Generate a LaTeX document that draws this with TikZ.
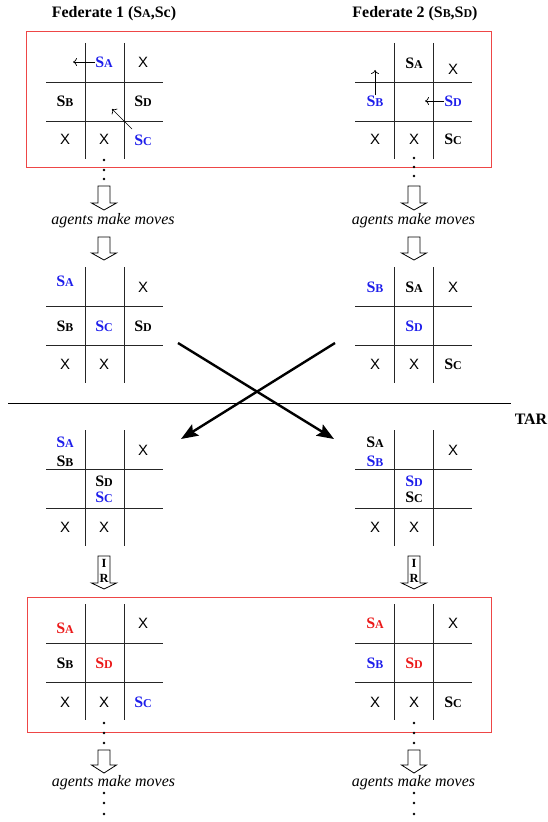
\documentclass[tikz,border=0pt]{standalone}
\usepackage{fontspec}
\setmainfont{Liberation Serif}
\newfontfamily\xfont{Liberation Sans}
\usetikzlibrary{arrows.meta}
\definecolor{sblue}{RGB}{30,30,235}
\definecolor{sred}{RGB}{235,25,25}
\definecolor{boxred}{RGB}{238,70,70}
\newcommand\lbS[1]{S{\fontsize{12}{12}\selectfont #1}}
\newcommand\hollowdown[4]{\draw[hollow] ({#1-6},#2) -- ({#1+6},#2) -- ({#1+6},#3) -- ({#1+12.5},#3) -- (#1,#4) -- ({#1-12.5},#3) -- ({#1-6},#3) -- cycle;}
\newcommand\threedots[4]{\fill (#1,#2) circle (1.3bp); \fill (#1,#3) circle (1.3bp); \fill (#1,#4) circle (1.3bp);}
\tikzset{ttt/.pic={\draw[gridline] (39,0) -- (39,116) (78,0) -- (78,116) (0,39) -- (117,39) (0,78) -- (117,78);}}
\begin{document}
\begin{tikzpicture}[x=1bp,y=-1bp,
 lbl/.style={font=\fontsize{16}{16}\selectfont\bfseries, inner sep=0pt},
 xm/.style={font=\xfont\fontsize{15}{15}\selectfont, inner sep=0pt},
 gridline/.style={line width=1bp, black!85},
 frame/.style={draw=boxred, line width=1bp},
 cellarrow/.style={line width=0.7bp, -{To[length=4bp,width=8bp]}},
 cross/.style={line width=2.4bp, -{Stealth[length=17bp,width=13bp,inset=3bp]}},
 hollow/.style={draw=black, line width=0.8bp, fill=white},
 note/.style={font=\itshape\fontsize{16}{16}\selectfont, inner sep=0pt},
 title/.style={font=\bfseries\fontsize{16}{16}\selectfont, inner sep=0pt},
 irl/.style={font=\bfseries\fontsize{12.5}{12.5}\selectfont, inner sep=0pt}]
\useasboundingbox (0,0) rectangle (548,822);
% titles
\node[title] (t1) at (114,14) {Federate 1 (\lbS{A},Sc)};
\node[title] (t2) at (415,14) {Federate 2 (\lbS{B},\lbS{D})};
% frames
\draw[frame] (26,32) rectangle (491,167);
\draw[frame] (27,597) rectangle (491,732);
% ---------- row 1
\pic at (46,43) {ttt};
\node[lbl, sblue] (a1) at (104,62) {\lbS{A}};
\node[xm] (a1x1) at (143,62) {X};
\node[lbl] (a1b) at (65,101) {\lbS{B}};
\node[lbl] (a1d) at (143,101) {\lbS{D}};
\node[xm] (a1x2) at (65,139) {X};
\node[xm] (a1x3) at (104,139) {X};
\node[lbl, sblue] (a1c) at (143,140) {\lbS{C}};
\coordinate (a1ae) at (73,62);
\coordinate (a1cs) at (132,129);
\coordinate (a1ce) at (112,109);
\draw[cellarrow] (a1.west) -- (a1ae);
\draw[cellarrow] (a1cs) -- (a1ce);
\pic at (355,43) {ttt};
\node[lbl] (b1a) at (414,63) {\lbS{A}};
\node[xm] (b1x1) at (453,69) {X};
\node[lbl, sblue] (b1b) at (375,101) {\lbS{B}};
\node[lbl, sblue] (b1d) at (453,101) {\lbS{D}};
\node[xm] (b1x2) at (375,139) {X};
\node[xm] (b1x3) at (414,139) {X};
\node[lbl] (b1c) at (453,139) {\lbS{C}};
\coordinate (b1be) at (375,70);
\coordinate (b1de) at (425,101);
\draw[cellarrow] (b1b.north) -- (b1be);
\draw[cellarrow] (b1d.west) -- (b1de);
% dots + arrows + notes
\threedots{104}{160}{170}{179}
\threedots{414}{158}{167}{176}
\hollowdown{104}{186}{203}{210}
\hollowdown{414}{186}{203}{210}
\node[note] (n1) at (113,221) {agents make moves};
\node[note] (n2) at (413.5,221) {agents make moves};
\hollowdown{104}{237}{253}{260}
\hollowdown{414}{237}{253}{260}
% ---------- row 2
\pic at (46,267) {ttt};
\node[lbl, sblue] (a2a) at (65,281) {\lbS{A}};
\node[xm] (a2x1) at (143,287) {X};
\node[lbl] (a2b) at (65,326) {\lbS{B}};
\node[lbl, sblue] (a2c) at (104,326) {\lbS{C}};
\node[lbl] (a2d) at (143,326) {\lbS{D}};
\node[xm] (a2x2) at (65,364) {X};
\node[xm] (a2x3) at (104,364) {X};
\pic at (355,267) {ttt};
\node[lbl, sblue] (b2b) at (375,287) {\lbS{B}};
\node[lbl] (b2a) at (414,287) {\lbS{A}};
\node[xm] (b2x1) at (453,287) {X};
\node[lbl, sblue] (b2d) at (414,326) {\lbS{D}};
\node[xm] (b2x2) at (375,364) {X};
\node[xm] (b2x3) at (414,364) {X};
\node[lbl] (b2c) at (453,364) {\lbS{C}};
% cross
\coordinate (c1s) at (178,343);
\coordinate (c1e) at (334,439);
\coordinate (c2s) at (335,343);
\coordinate (c2e) at (181,439);
\draw[cross] (c1s) -- (c1e);
\draw[cross] (c2s) -- (c2e);
% TAR line
\coordinate (tl) at (8,403);
\coordinate (tr) at (511,403);
\draw[line width=1bp] (tl) -- (tr);
\node[title] (tar) at (531,419) {TAR};
% ---------- row 3
\pic at (46,430) {ttt};
\node[lbl, sblue] (a3a) at (65,442) {\lbS{A}};
\node[lbl] (a3b) at (65,461) {\lbS{B}};
\node[xm] (a3x1) at (143,450) {X};
\node[lbl] (a3d) at (104,481) {\lbS{D}};
\node[lbl, sblue] (a3c) at (104,497) {\lbS{C}};
\node[xm] (a3x2) at (65,527) {X};
\node[xm] (a3x3) at (104,527) {X};
\pic at (355,430) {ttt};
\node[lbl] (b3a) at (375,442) {\lbS{A}};
\node[lbl, sblue] (b3b) at (375,461) {\lbS{B}};
\node[xm] (b3x1) at (453,450) {X};
\node[lbl, sblue] (b3d) at (414,481) {\lbS{D}};
\node[lbl] (b3c) at (414,497) {\lbS{C}};
\node[xm] (b3x2) at (375,527) {X};
\node[xm] (b3x3) at (414,527) {X};
% IR arrows
\hollowdown{104}{556}{583}{589}
\hollowdown{414}{556}{583}{589}
\node[irl] (ir1i) at (104,563) {I};
\node[irl] (ir1r) at (104,578) {R};
\node[irl] (ir2i) at (414,563) {I};
\node[irl] (ir2r) at (414,578) {R};
% ---------- row 4
\pic at (46,604) {ttt};
\node[lbl, sred] (a4a) at (65,628) {\lbS{A}};
\node[xm] (a4x1) at (143,623) {X};
\node[lbl] (a4b) at (65,663) {\lbS{B}};
\node[lbl, sred] (a4d) at (104,663) {\lbS{D}};
\node[xm] (a4x2) at (65,702) {X};
\node[xm] (a4x3) at (104,702) {X};
\node[lbl, sblue] (a4c) at (143,702) {\lbS{C}};
\pic at (355,604) {ttt};
\node[lbl, sred] (b4a) at (375,623) {\lbS{A}};
\node[xm] (b4x1) at (453,623) {X};
\node[lbl, sblue] (b4b) at (375,663) {\lbS{B}};
\node[lbl, sred] (b4d) at (414,663) {\lbS{D}};
\node[xm] (b4x2) at (375,702) {X};
\node[xm] (b4x3) at (414,702) {X};
\node[lbl] (b4c) at (453,702) {\lbS{C}};
% bottom
\threedots{104}{723}{733}{743}
\threedots{414}{723}{733}{743}
\hollowdown{104}{750}{765}{773}
\hollowdown{414}{750}{765}{773}
\node[note] (n3) at (113.5,783) {agents make moves};
\node[note] (n4) at (413.5,783) {agents make moves};
\threedots{104}{793}{803}{814}
\threedots{414}{793}{803}{814}
\end{tikzpicture}
\end{document}
